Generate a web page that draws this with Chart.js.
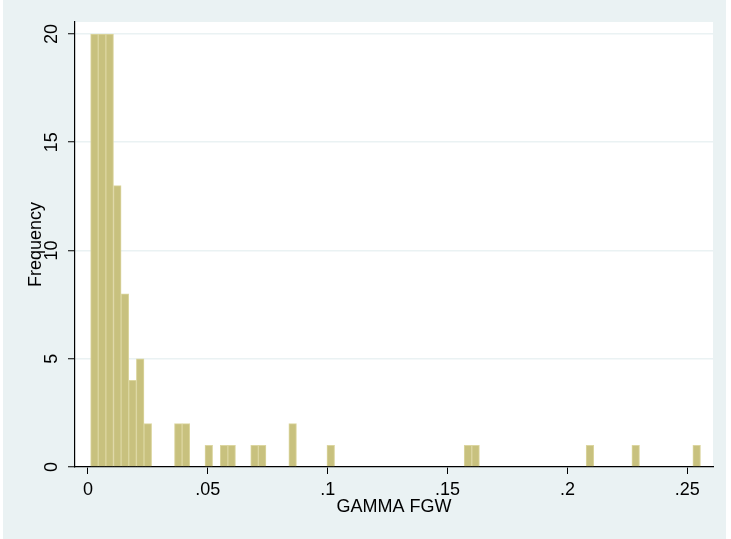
<!DOCTYPE html>
<html>
<head>
<meta charset="utf-8">
<script src="https://cdn.jsdelivr.net/npm/chart.js@4"></script>
<style>
  html, body { margin: 0; padding: 0; background: #ffffff; }
  #wrap { width: 731px; height: 539px; }
</style>
</head>
<body>
<div id="wrap"><canvas id="c" width="731" height="539"></canvas></div>
<script>
// ---- data ----
const binStart = 0.0011;      // left edge of first bin
const binWidth = 0.00318;     // bin width
const counts = [
  20,20,20,13,8,4,5,2,0,0,
  0,2,2,0,0,1,0,1,1,0,
  0,1,1,0,0,0,2,0,0,0,
  0,1,0,0,0,0,0,0,0,0,
  0,0,0,0,0,0,0,0,0,1,
  1,0,0,0,0,0,0,0,0,0,
  0,0,0,0,0,1,0,0,0,0,
  0,1,0,0,0,0,0,0,0,1
];
const xTicks = [0, 0.05, 0.1, 0.15, 0.2, 0.25];
const xTickLabels = ["0", ".05", ".1", ".15", ".2", ".25"];
const yTicks = [0, 5, 10, 15, 20];
const yTickLabels = ["0", "5", "10", "15", "20"];
const xTitle = "GAMMA FGW";
const yTitle = "Frequency";

const points = counts.map((c, i) => ({ x: binStart + (i + 0.5) * binWidth, y: c }));

const FONT = "'Liberation Sans', Arial, Helvetica, sans-serif";

const bgPlugin = {
  id: 'bg',
  beforeDraw(chart) {
    const ctx = chart.ctx, a = chart.chartArea;
    ctx.save();
    ctx.fillStyle = '#ffffff';
    ctx.fillRect(0, 0, chart.width, chart.height);
    ctx.fillStyle = '#eaf2f3';
    ctx.fillRect(3, 0, 723, chart.height);
    ctx.fillStyle = '#ffffff';
    ctx.fillRect(a.left, a.top, a.right - a.left, a.bottom - a.top);
    ctx.restore();
  }
};

new Chart(document.getElementById('c'), {
  type: 'bar',
  data: {
    datasets: [{
      data: points,
      backgroundColor: 'rgb(200,193,126)',
      borderColor: 'rgb(220,214,160)',
      borderWidth: 1,
      barPercentage: 1,
      categoryPercentage: 1
    }]
  },
  options: {
    responsive: false,
    animation: false,
    devicePixelRatio: 1,
    layout: { padding: { top: 22, right: 18, left: 0, bottom: 0 } },
    plugins: { legend: { display: false }, tooltip: { enabled: false } },
    scales: {
      x: {
        type: 'linear',
        offset: false,
        min: -0.00542,
        max: 0.26072,
        afterBuildTicks: s => { s.ticks = xTicks.map(v => ({ value: v })); },
        afterFit: s => { s.height = 72; },
        ticks: {
          callback: v => { const i = xTicks.indexOf(v); return i >= 0 ? xTickLabels[i] : ''; },
          font: { family: FONT, size: 18 },
          color: '#000',
          padding: 5,
          maxRotation: 0,
          minRotation: 0
        },
        grid: { offset: false, drawOnChartArea: false, drawTicks: true, tickLength: 7, tickColor: '#000', tickWidth: 1 },
        border: { color: '#000', width: 1.2 },
        title: { display: true, text: xTitle, font: { family: FONT, size: 18 }, color: '#000', padding: { top: 0, bottom: 21 } }
      },
      y: {
        min: 0,
        max: 20.554,
        afterBuildTicks: s => { s.ticks = yTicks.map(v => ({ value: v })); },
        afterFit: s => { s.width = 75; },
        ticks: {
          callback: v => { const i = yTicks.indexOf(v); return i >= 0 ? yTickLabels[i] : ''; },
          font: { family: FONT, size: 18 },
          color: '#000',
          padding: 6,
          minRotation: 90,
          maxRotation: 90,
          crossAlign: 'center'
        },
        grid: { color: '#eaf2f3', lineWidth: 1.5, drawTicks: true, tickLength: 7, tickColor: '#000', tickWidth: 1 },
        border: { color: '#000', width: 1.2 },
        title: { display: true, text: yTitle, font: { family: FONT, size: 18 }, color: '#000', padding: { top: 25, bottom: 0 } }
      }
    }
  },
  plugins: [bgPlugin]
});
</script>
</body>
</html>
